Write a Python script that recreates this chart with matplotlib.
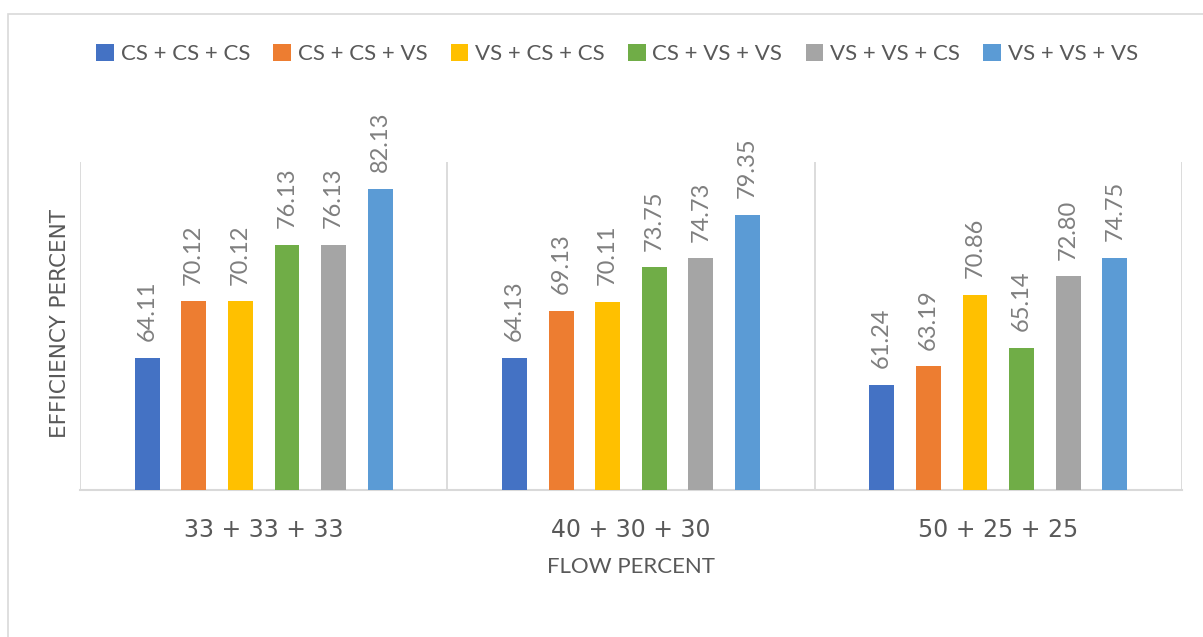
import matplotlib
matplotlib.use("Agg")
import matplotlib.pyplot as plt
from matplotlib.patches import Rectangle
import numpy as np

categories = ["33 + 33 + 33", "40 + 30 + 30", "50 + 25 + 25"]
series_names = ["CS + CS + CS", "CS + CS + VS", "VS + CS + CS",
                "CS + VS + VS", "VS + VS + CS", "VS + VS + VS"]
values = {
    "CS + CS + CS": [64.11, 64.13, 61.24],
    "CS + CS + VS": [70.12, 69.13, 63.19],
    "VS + CS + CS": [70.12, 70.11, 70.86],
    "CS + VS + VS": [76.13, 73.75, 65.14],
    "VS + VS + CS": [76.13, 74.73, 72.80],
    "VS + VS + VS": [82.13, 79.35, 74.75],
}
colors = ["#4472C4", "#ED7D31", "#FFC000", "#70AD47", "#A5A5A5", "#5B9BD5"]

W, H = 1203, 637
fig = plt.figure(figsize=(W / 100, H / 100), dpi=100)
fig.patch.set_facecolor("white")

# outer chart frame
fig.add_artist(Rectangle((8 / W, -0.1), 1.2, (H - 14) / H + 0.1,
                         transform=fig.transFigure, fill=False,
                         edgecolor="#d9d9d9", linewidth=1.2))

ax = fig.add_axes([80 / W, (H - 490) / H, (1182 - 80) / W, (490 - 162) / H])
x = np.arange(len(categories))
pitch = 0.127
bw = 0.068
for i, name in enumerate(series_names):
    xs = x + (i - 2.5) * pitch
    ax.bar(xs, values[name], width=bw, bottom=0, color=colors[i],
           label=name, zorder=3)
    for xi, v in zip(xs, values[name]):
        ax.annotate(f"{v:.2f}", (xi, v), xytext=(0, 12), textcoords="offset points",
                    rotation=90, ha="center", va="bottom", fontsize=17,
                    family="Lato", color="#7f7f7f", clip_on=False)

ax.set_ylim(50, 85)
ax.set_xlim(-0.5, 2.5)
for xv in [-0.5, 0.5, 1.5, 2.5]:
    ax.axvline(xv, color="#d9d9d9", linewidth=1.3, zorder=1)
for s in ["top", "right", "left"]:
    ax.spines[s].set_visible(False)
ax.spines["bottom"].set_color("#d9d9d9")
ax.spines["bottom"].set_linewidth(1.5)
ax.set_yticks([])
ax.set_xticks(x)
ax.set_xticklabels(categories, fontsize=17, color="#595959", family="DejaVu Sans")
ax.tick_params(axis="x", length=0, pad=20)

ax.set_xlabel("FLOW PERCENT", fontsize=16, color="#595959", family="Lato", labelpad=11)
fig.text(59.5 / W, 1 - 324 / H, "EFFICIENCY PERCENT", rotation=90, ha="center",
         va="center", fontsize=15.5, color="#595959", family="DejaVu Sans")

leg = fig.legend(loc="center", bbox_to_anchor=(617 / W, 1 - 54 / H), ncol=6,
                 frameon=False, handlelength=0.8, handleheight=0.8,
                 handletextpad=0.3, columnspacing=1.05,
                 prop={"family": "Lato", "size": 16})
for t in leg.get_texts():
    t.set_color("#595959")

fig.savefig("out.png", dpi=100, facecolor="white")
